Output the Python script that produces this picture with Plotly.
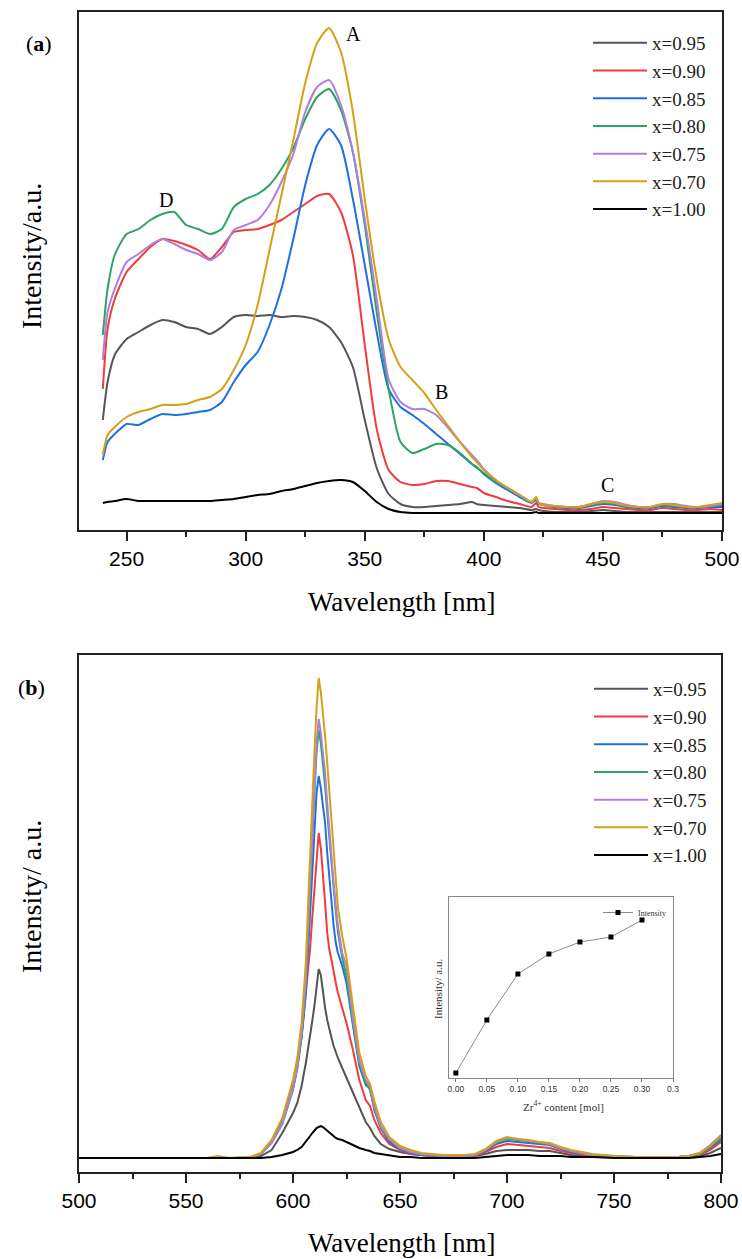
import plotly.graph_objects as go

# ---------------- Panel (a): excitation spectra ----------------
wl_a = [240, 242, 245, 250, 255, 260, 265, 270, 275, 280, 285, 290, 295, 300, 305, 310, 315, 320, 325, 330,
        335, 340, 345, 350, 355, 360, 365, 370, 375, 380, 385, 390, 395, 397, 400, 405, 410, 415, 420, 422,
        423, 425, 430, 435, 440, 445, 450, 455, 460, 465, 470, 475, 480, 485, 490, 495, 500]

a_095 = [110, 148, 175, 191, 198, 205, 210, 208, 203, 201, 196, 203, 213, 215, 214, 215, 213, 214, 213, 210,
         203, 188, 163, 110, 62, 36, 26, 23, 23, 24, 25, 26, 28, 26, 25, 24, 23, 22, 20, 21,
         20, 19, 18, 18, 18, 19, 20, 19, 18, 18, 18, 18, 18, 18, 18, 18, 18]
a_090 = [141, 201, 231, 258, 271, 283, 291, 289, 285, 280, 271, 283, 298, 300, 301, 305, 310, 318, 326, 334,
         336, 318, 275, 185, 101, 60, 48, 45, 46, 49, 49, 46, 43, 42, 37, 33, 29, 26, 23, 27,
         23, 22, 21, 20, 20, 21, 23, 22, 21, 20, 20, 22, 21, 20, 20, 21, 20]
a_085 = [70, 88, 96, 106, 105, 111, 116, 115, 116, 118, 120, 128, 148, 165, 178, 205, 241, 291, 345, 385,
         401, 385, 331, 265, 198, 141, 123, 115, 106, 96, 86, 76, 66, 63, 56, 47, 40, 33, 27, 30,
         26, 25, 23, 22, 22, 24, 26, 25, 23, 22, 22, 24, 23, 22, 22, 23, 23]
a_080 = [195, 241, 275, 296, 301, 310, 316, 318, 305, 301, 296, 301, 323, 331, 336, 345, 361, 382, 411, 433,
         441, 420, 378, 305, 218, 141, 88, 77, 81, 86, 85, 77, 66, 62, 57, 48, 42, 35, 28, 31,
         27, 25, 23, 23, 23, 25, 27, 26, 24, 23, 23, 25, 24, 23, 23, 24, 25]
a_075 = [170, 218, 241, 268, 276, 285, 291, 286, 280, 276, 270, 278, 300, 305, 310, 325, 348, 376, 418, 443,
         450, 425, 378, 311, 231, 151, 128, 121, 121, 115, 102, 88, 75, 70, 61, 50, 42, 35, 28, 32,
         27, 26, 24, 23, 23, 26, 29, 28, 25, 23, 23, 26, 26, 24, 23, 24, 26]
a_070 = [75, 95, 103, 113, 118, 121, 125, 125, 126, 130, 133, 141, 160, 185, 225, 280, 335, 390, 447, 487,
         502, 478, 418, 331, 251, 191, 163, 150, 137, 120, 104, 88, 73, 68, 60, 50, 42, 35, 28, 33,
         27, 25, 24, 23, 23, 26, 28, 27, 24, 23, 23, 26, 25, 23, 23, 25, 27]
a_100 = [27, 28, 29, 31, 29, 29, 29, 29, 29, 29, 29, 30, 31, 33, 35, 36, 39, 41, 44, 47,
         49, 50, 48, 39, 28, 21, 18, 17, 17, 17, 17, 17, 17, 17, 17, 17, 17, 17, 17, 18,
         17, 17, 17, 17, 17, 17, 17, 17, 17, 17, 17, 17, 17, 17, 17, 17, 17]

# ---------------- Panel (b): emission spectra ----------------
wl_b = [500, 520, 540, 560, 565, 570, 580, 585, 590, 595,
        600, 602, 604, 606, 607, 608, 609, 610, 611, 612,
        613, 614, 615, 616, 617, 618, 619, 620, 621, 623,
        625, 628, 631, 634, 636, 638, 641, 645, 650, 655,
        660, 670, 680, 685, 690, 695, 700, 705, 710, 715,
        720, 725, 730, 740, 750, 760, 770, 780, 785, 790,
        795, 800]

b_095 = [0, 0, 0, 0, 0, 0, 0, 2, 8, 25,
         45, 55, 72, 95, 108, 122, 137, 152, 172, 189,
         183, 165, 150, 138, 128, 120, 112, 105, 100, 90,
         80, 65, 50, 36, 30, 22, 14, 9, 6, 4,
         3, 1, 1, 2, 4, 7, 8, 8, 8, 7,
         7, 5, 3, 2, 1, 0, 0, 1, 1, 2,
         5, 10]
b_090 = [0, 0, 0, 0, 0, 0, 0, 4, 16, 37,
         72, 95, 122, 165, 185, 210, 240, 270, 305, 325,
         310, 285, 255, 225, 208, 198, 185, 175, 165, 150,
         135, 108, 78, 58, 52, 38, 25, 14, 8, 4,
         3, 1, 1, 2, 6, 11, 14, 13, 12, 11,
         10, 7, 5, 2, 1, 1, 1, 1, 1, 3,
         8, 16]
b_085 = [0, 0, 0, 0, 0, 0, 0, 4, 16, 36,
         70, 90, 120, 165, 205, 245, 290, 330, 365, 382,
         370, 352, 335, 305, 278, 252, 232, 215, 205, 192,
         175, 133, 92, 73, 70, 48, 30, 16, 9, 5,
         3, 2, 2, 3, 7, 14, 17, 16, 15, 14,
         13, 9, 6, 3, 1, 1, 1, 1, 2, 4,
         10, 18]
b_080 = [0, 0, 0, 0, 0, 0, 0, 4, 15, 34,
         68, 90, 122, 175, 225, 272, 318, 365, 405, 428,
         415, 395, 372, 345, 318, 292, 268, 246, 226, 200,
         182, 135, 95, 75, 68, 50, 31, 18, 10, 6,
         4, 2, 2, 3, 8, 15, 19, 18, 17, 15,
         14, 10, 7, 3, 2, 1, 1, 1, 2, 4,
         11, 20]
b_075 = [0, 0, 0, 0, 1, 0, 1, 4, 15, 35,
         70, 92, 125, 180, 230, 280, 325, 375, 415, 439,
         425, 405, 385, 355, 325, 300, 275, 252, 232, 205,
         192, 140, 98, 78, 72, 52, 32, 19, 10, 6,
         4, 2, 2, 3, 8, 16, 20, 19, 17, 16,
         14, 10, 7, 3, 2, 1, 1, 1, 2, 5,
         13, 23]
b_070 = [0, 0, 0, 0, 2, 0, 1, 5, 18, 40,
         78, 100, 135, 195, 250, 305, 355, 405, 450, 480,
         466, 445, 422, 395, 365, 335, 305, 275, 250, 222,
         200, 152, 105, 82, 74, 57, 36, 21, 12, 8,
         5, 3, 3, 4, 9, 17, 21, 19, 18, 16,
         15, 11, 8, 4, 2, 1, 1, 1, 2, 5,
         12, 22]
b_100 = [0, 0, 0, 0, 0, 0, 0, 0, 1, 3,
         6, 8, 11, 16, 19, 22, 25, 28, 30, 31,
         32, 31, 29, 27, 25, 23, 21, 20, 19, 18,
         16, 13, 10, 8, 7, 5, 4, 3, 1, 1,
         0, 0, 0, 0, 1, 2, 3, 3, 3, 2,
         2, 2, 1, 1, 0, 0, 0, 0, 0, 1,
         2, 4]

# ---------------- Inset ----------------
zr_content = [0.00, 0.05, 0.10, 0.15, 0.20, 0.25, 0.30]
zr_intensity = [5, 58, 104, 124, 136, 141, 158]
inset_tickvals = [0.00, 0.05, 0.10, 0.15, 0.20, 0.25, 0.30, 0.35]
inset_ticktext = ["0.00", "0.05", "0.10", "0.15", "0.20", "0.25", "0.30", "0.3"]

labels = ["x=0.95", "x=0.90", "x=0.85", "x=0.80", "x=0.75", "x=0.70", "x=1.00"]
colors = ["#555555", "#f23b3b", "#1f6fe0", "#2ca463", "#b07ee0", "#d4a017", "#000000"]
series_a = [a_095, a_090, a_085, a_080, a_075, a_070, a_100]
series_b = [b_095, b_090, b_085, b_080, b_075, b_070, b_100]

W, H = 742, 1259
def px(x):
    return x / W
def py(y):
    return 1 - y / H

SERIF = "Liberation Serif"
SANS = "Liberation Sans"

fig = go.Figure()
for lab, col, ys in zip(labels, colors, series_a):
    fig.add_trace(go.Scatter(x=wl_a, y=ys, mode="lines", name=lab,
                             line=dict(color=col, width=2, shape="spline", smoothing=0.6),
                             xaxis="x", yaxis="y", legend="legend"))
for lab, col, ys in zip(labels, colors, series_b):
    fig.add_trace(go.Scatter(x=wl_b, y=ys, mode="lines", name=lab,
                             line=dict(color=col, width=2),
                             xaxis="x2", yaxis="y2", legend="legend2"))
fig.add_trace(go.Scatter(x=zr_content, y=zr_intensity, mode="lines+markers", name="Intensity",
                         line=dict(color="#8a8a8a", width=1),
                         marker=dict(symbol="square", size=5, color="black"),
                         xaxis="x3", yaxis="y3", legend="legend3"))

axis_common = dict(showline=True, mirror=True, linecolor="#222222", linewidth=1.5,
                   showgrid=False, zeroline=False, automargin=False)

fig.update_layout(
    width=W, height=H,
    margin=dict(l=0, r=0, t=0, b=0, pad=0, autoexpand=False),
    paper_bgcolor="white", plot_bgcolor="white",
    xaxis=dict(domain=[px(79), px(722)], range=[230, 500], anchor="y",
               tickvals=[250, 300, 350, 400, 450, 500], ticks="outside", ticklen=9, tickwidth=1.5,
               tickcolor="#222222",
               minor=dict(dtick=25, tick0=0, ticks="outside", ticklen=5, tickwidth=1.5, tickcolor="#222222"),
               tickfont=dict(family=SANS, size=21, color="black"), **axis_common),
    yaxis=dict(domain=[py(530), py(12)], range=[0, 518], anchor="x",
               showticklabels=False, ticks="", **axis_common),
    xaxis2=dict(domain=[px(79), px(721)], range=[500, 800], anchor="y2",
                tickvals=[500, 550, 600, 650, 700, 750, 800], ticks="outside", ticklen=9, tickwidth=1.5,
                tickcolor="#222222",
                minor=dict(dtick=25, tick0=0, ticks="outside", ticklen=5, tickwidth=1.5, tickcolor="#222222"),
                tickfont=dict(family=SANS, size=21, color="black"), **axis_common),
    yaxis2=dict(domain=[py(1172), py(655)], range=[-14, 503], anchor="x2",
                showticklabels=False, ticks="", **axis_common),
    xaxis3=dict(domain=[px(449), px(673)], range=[-0.011, 0.35], anchor="y3",
                tickvals=inset_tickvals, ticktext=inset_ticktext, ticks="outside", ticklen=3,
                tickwidth=0.8, tickcolor="#777777",
                tickfont=dict(family=SANS, size=8.5, color="#333333"),
                showline=True, mirror=True, linecolor="#888888", linewidth=1,
                showgrid=False, zeroline=False, automargin=False),
    yaxis3=dict(domain=[py(1078), py(897)], range=[0, 181], anchor="x3",
                showticklabels=False, ticks="",
                showline=True, mirror=True, linecolor="#888888", linewidth=1,
                showgrid=False, zeroline=False, automargin=False),
    legend=dict(x=px(588), y=py(24), xanchor="left", yanchor="top", bgcolor="rgba(0,0,0,0)",
                font=dict(family=SERIF, size=19, color="#222222"), itemwidth=54, tracegroupgap=0),
    legend2=dict(x=px(589), y=py(670), xanchor="left", yanchor="top", bgcolor="rgba(0,0,0,0)",
                 font=dict(family=SERIF, size=19, color="#222222"), itemwidth=54, tracegroupgap=0),
    legend3=dict(x=px(598), y=py(898), xanchor="left", yanchor="top", bgcolor="rgba(0,0,0,0)",
                 font=dict(family=SERIF, size=8, color="#333333"), itemwidth=30),
    showlegend=True,
)

ann = []
def paper_text(text, x, y, size, angle=0, family=SERIF, color="black"):
    ann.append(dict(text=text, x=px(x), y=py(y), xref="paper", yref="paper", showarrow=False,
                    xanchor="center", yanchor="middle", textangle=angle,
                    font=dict(family=family, size=size, color=color)))

paper_text("(<b>a</b>)", 39, 44, 22)
paper_text("(<b>b</b>)", 31, 687, 22)
paper_text("Intensity/a.u.", 31, 256, 28, angle=-90)
paper_text("Intensity/ a.u.", 31, 897, 28, angle=-90)
paper_text("Wavelength [nm]", 402, 602, 27)
paper_text("Wavelength [nm]", 402, 1243, 27)
paper_text("Intensity/ a.u.", 438, 989, 11, angle=-90, color="#333333")
paper_text("Zr<sup>4+</sup> content [mol]", 563, 1106, 11, color="#333333")

for t, xv, yv in [("A", 345.1, 496), ("B", 382.1, 138), ("C", 451.8, 45), ("D", 266.6, 330)]:
    ann.append(dict(text=t, x=xv, y=yv, xref="x", yref="y", showarrow=False,
                    xanchor="center", yanchor="middle",
                    font=dict(family=SERIF, size=20, color="black")))

fig.update_layout(annotations=ann)
fig.write_html("out.html", config={"displayModeBar": False},
               post_script="document.body.style.margin='0';")
